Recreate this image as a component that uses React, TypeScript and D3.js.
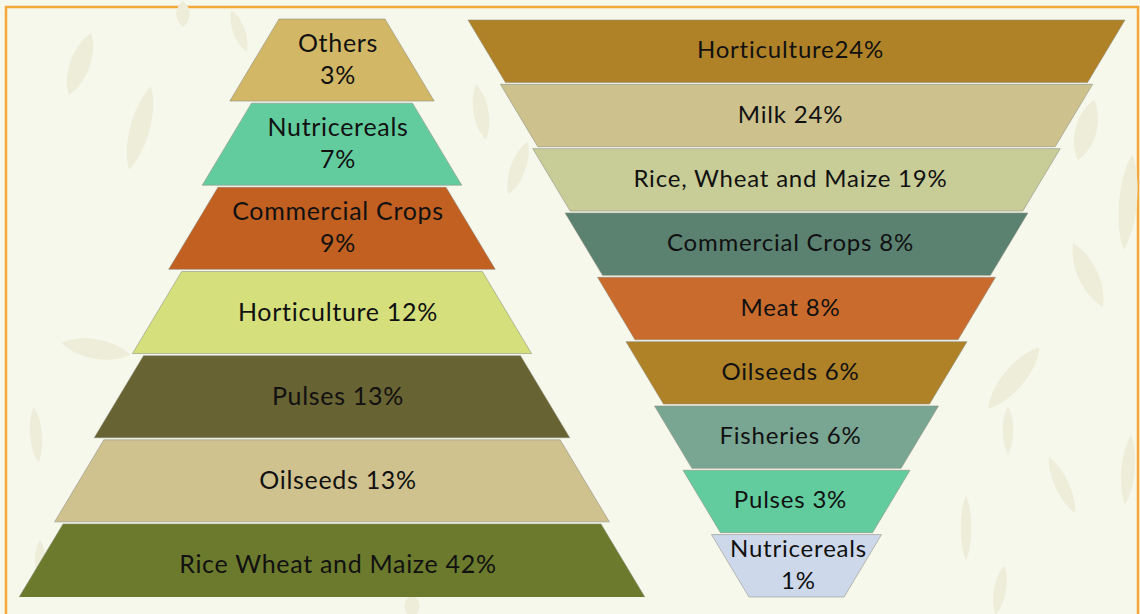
import React from 'react';
import * as d3 from 'd3';

// left pyramid, top to bottom
const pyramidCategories = ['Others', 'Nutricereals', 'Commercial Crops', 'Horticulture', 'Pulses', 'Oilseeds', 'Rice Wheat and Maize'];
const pyramidValues = [3, 7, 9, 12, 13, 13, 42];
const pyramidColors = ['#d2b866', '#63cc9f', '#c26022', '#d5e07c', '#676332', '#cfc28f', '#6b7a2c'];

// right funnel, top to bottom
const funnelCategories = ['Horticulture', 'Milk', 'Rice, Wheat and Maize', 'Commercial Crops', 'Meat', 'Oilseeds', 'Fisheries', 'Pulses', 'Nutricereals'];
const funnelValues = [24, 24, 19, 8, 8, 6, 6, 3, 1];
const funnelColors = ['#b08228', '#cdc18d', '#c8cd97', '#5b8271', '#c96b2c', '#b08228', '#79a693', '#63cc9f', '#cdd9ea'];

// background leaves (decoration only)
const leaves = [
  { x: 80, y: 64, l: 66, w: 26, a: 20 },
  { x: 140, y: 128, l: 86, w: 26, a: 15 },
  { x: 183, y: 14, l: 26, w: 18, a: 0 },
  { x: 239, y: 31, l: 44, w: 16, a: -20 },
  { x: 96, y: 349, l: 70, w: 26, a: 100 },
  { x: 36, y: 435, l: 56, w: 16, a: -5 },
  { x: 481, y: 112, l: 56, w: 20, a: -10 },
  { x: 518, y: 168, l: 56, w: 20, a: 20 },
  { x: 1086, y: 130, l: 62, w: 28, a: 15 },
  { x: 1128, y: 202, l: 96, w: 24, a: 5 },
  { x: 1088, y: 275, l: 70, w: 26, a: -25 },
  { x: 1014, y: 378, l: 80, w: 28, a: 40 },
  { x: 1008, y: 430, l: 48, w: 14, a: 0 },
  { x: 1062, y: 485, l: 62, w: 18, a: -25 },
  { x: 1128, y: 470, l: 70, w: 18, a: 5 },
  { x: 966, y: 528, l: 66, w: 14, a: 0 },
  { x: 1000, y: 590, l: 50, w: 16, a: 10 },
  { x: 40, y: 560, l: 40, w: 14, a: 0 },
  { x: 412, y: 606, l: 24, w: 20, a: 0 },
];

const W = 1140;
const H = 614;
const SLOPE = 0.6;

const leafPath = (l: number, w: number) =>
  `M0,${-l / 2} C${w / 2},${-l / 4} ${w / 2},${l / 4} 0,${l / 2} C${-w / 2},${l / 4} ${-w / 2},${-l / 4} 0,${-l / 2}Z`;

function trapezoid(cx: number, y0: number, y1: number, topW: number, botW: number) {
  const pts: [number, number][] = [
    [cx - topW / 2, y0],
    [cx + topW / 2, y0],
    [cx + botW / 2, y1],
    [cx - botW / 2, y1],
  ];
  return d3.line()(pts) + 'Z';
}

function Labels({ lines, x, y, size, gap, spacing }: { lines: string[]; x: number; y: number; size: number; gap: number; spacing: number }) {
  const off = ((lines.length - 1) * gap) / 2;
  return (
    <text
      x={x}
      textAnchor="middle"
      dominantBaseline="central"
      style={{ fontSize: size, fill: '#111', fontFamily: 'Lato, sans-serif', letterSpacing: spacing }}
    >
      {lines.map((t, k) => (
        <tspan key={k} x={x} y={y - off + k * gap}>
          {t}
        </tspan>
      ))}
    </text>
  );
}

function Pyramid() {
  const cx = 332;
  const y = d3.scaleBand<number>().domain(d3.range(pyramidCategories.length)).range([19, 606]).paddingInner(0.025);
  const topW = d3.scalePow().exponent(1.15).domain([0, pyramidCategories.length - 1]).range([106, 538]);
  const bw = y.bandwidth();
  const fs = 25;
  return (
    <g className="pyramid">
      <defs>
        <clipPath id="pyClip">
          <rect x={0} y={0} width={W} height={597} />
        </clipPath>
      </defs>
      <g clipPath="url(#pyClip)">
        {pyramidCategories.map((c, i) => {
          const y0 = y(i)!;
          const tw = topW(i);
          const bwid = tw + 2 * SLOPE * bw;
          const label = `${c} ${pyramidValues[i]}%`;
          const lines = label.length * fs * 0.52 > tw ? [c, `${pyramidValues[i]}%`] : [label];
          return (
            <g key={c}>
              <path d={trapezoid(cx, y0, y0 + bw, tw, bwid)} fill={pyramidColors[i]} stroke="#8d8d80" strokeOpacity={0.55} strokeWidth={1} />
              <Labels lines={lines} x={cx + 6} y={y0 + bw / 2 - 2} size={fs} gap={32} spacing={0.7} />
            </g>
          );
        })}
      </g>
    </g>
  );
}

function Funnel() {
  const cx = 796.5;
  const n = funnelCategories.length;
  const y = d3.scaleBand<number>().domain(d3.range(n)).range([20, 597]).paddingInner(0.03);
  const topW = d3.scaleLinear().domain([0, 4, n - 1]).range([657, 398, 170]);
  const bw = y.bandwidth();
  const fs = 24;
  return (
    <g className="funnel">
      {funnelCategories.map((c, i) => {
        const y0 = y(i)!;
        const tw = topW(i);
        const bwid = tw - 2 * SLOPE * bw;
        const label = `${c}${i === 0 ? '' : ' '}${funnelValues[i]}%`;
        const lines = label.length * fs * 0.52 > tw * 0.95 ? [c, `${funnelValues[i]}%`] : [label];
        const tx = lines.length > 1 ? cx + 2 : cx - 6;
        return (
          <g key={c + i}>
            <path d={trapezoid(cx, y0, y0 + bw, tw, bwid)} fill={funnelColors[i]} stroke="#8d8d80" strokeOpacity={0.55} strokeWidth={1} />
            <Labels lines={lines} x={tx} y={y0 + bw / 2 - 3} size={fs} gap={32} spacing={0.8} />
          </g>
        );
      })}
    </g>
  );
}

export default function App() {
  return (
    <svg width={W} height={H} style={{ position: 'absolute', left: 0, top: 0, display: 'block' }}>
      <rect x={0} y={0} width={W} height={H} fill="#f7f8ec" />
      <rect x={6} y={7} width={1132} height={640} fill="#f7f8ec" stroke="#f5a83a" strokeWidth={2.5} />
      <g className="leaves">
        {leaves.map((d, i) => (
          <path key={i} d={leafPath(d.l, d.w)} transform={`translate(${d.x},${d.y}) rotate(${d.a})`} fill="#ededd9" />
        ))}
      </g>
      <Pyramid />
      <Funnel />
    </svg>
  );
}
